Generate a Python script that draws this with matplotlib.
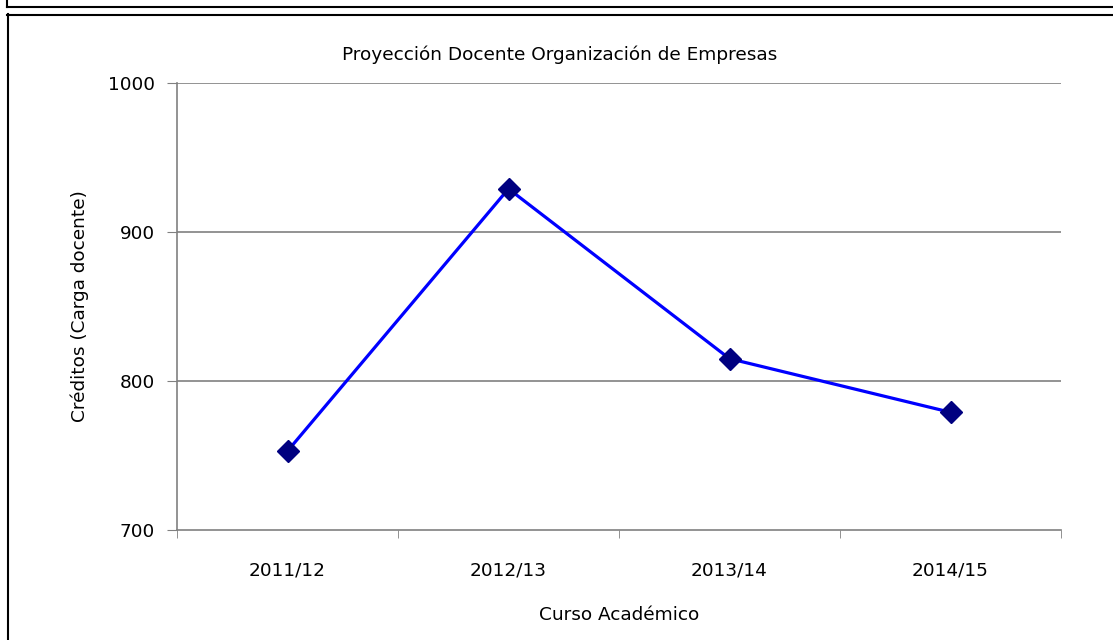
import matplotlib
matplotlib.use("Agg")
from matplotlib import pyplot as plt
from matplotlib.lines import Line2D

cursos = ["2011/12", "2012/13", "2013/14", "2014/15"]
creditos = [753, 929, 815, 779]
y_ticks = [700, 800, 900, 1000]

plt.rcParams['font.family'] = ['DejaVu Sans']
FS = 13.3

W, H = 1113, 640
fig = plt.figure(figsize=(W / 100, H / 100), dpi=100)

def px(x, y):
    # pixel coords (top-left origin) -> figure fraction
    return x / W, 1 - y / H

# outer frames
for (x0, y0), (x1, y1) in [((7, -5), (7, 7)), ((7, 7), (1120, 7)),
                           ((7, 14.5), (1120, 14.5)), ((7.5, 14), (7.5, 660))]:
    a, b = px(x0, y0)
    c, d = px(x1, y1)
    fig.add_artist(Line2D([a, c], [b, d], color="black", lw=1.5))

l, t = px(177, 83)
r, b = px(1061, 530)
ax = fig.add_axes([l, b, r - l, t - b])

xs = list(range(len(cursos)))
ax.plot(xs, creditos, color="#0000FF", lw=2.3, marker="D", markersize=11,
        markerfacecolor="#000080", markeredgecolor="#000080", zorder=3)

ax.set_xlim(-0.5, len(cursos) - 0.5)
ax.set_ylim(700, 1000)
ax.set_yticks(y_ticks)
ax.set_xticks(xs)
ax.set_xticklabels(cursos)
ax.set_xticks([i - 0.5 for i in range(len(cursos) + 1)], minor=True)
ax.tick_params(axis="x", which="major", length=0, pad=29, labelsize=FS)
ax.tick_params(axis="x", which="minor", length=6, color="#808080", direction="out")
ax.tick_params(axis="y", length=7, color="#808080", pad=9, labelsize=FS)
for lab in ax.get_xticklabels():
    lab.set_va("center")

for v in y_ticks[1:]:
    ax.axhline(v, color="#808080", lw=1.2, zorder=1)

for s in ["top", "right"]:
    ax.spines[s].set_visible(False)
for s in ["left", "bottom"]:
    ax.spines[s].set_color("#808080")
    ax.spines[s].set_linewidth(1.2)

fig.text(560 / W, 1 - 55 / H, "Proyección Docente Organización de Empresas",
         ha="center", va="center", fontsize=FS)
fig.text(619 / W, 1 - 615 / H, "Curso Académico",
         ha="center", va="center", fontsize=FS)
fig.text(80 / W, 1 - 306 / H, "Créditos (Carga docente)",
         ha="center", va="center", rotation=90, fontsize=FS)

fig.savefig("out.png", dpi=100)
